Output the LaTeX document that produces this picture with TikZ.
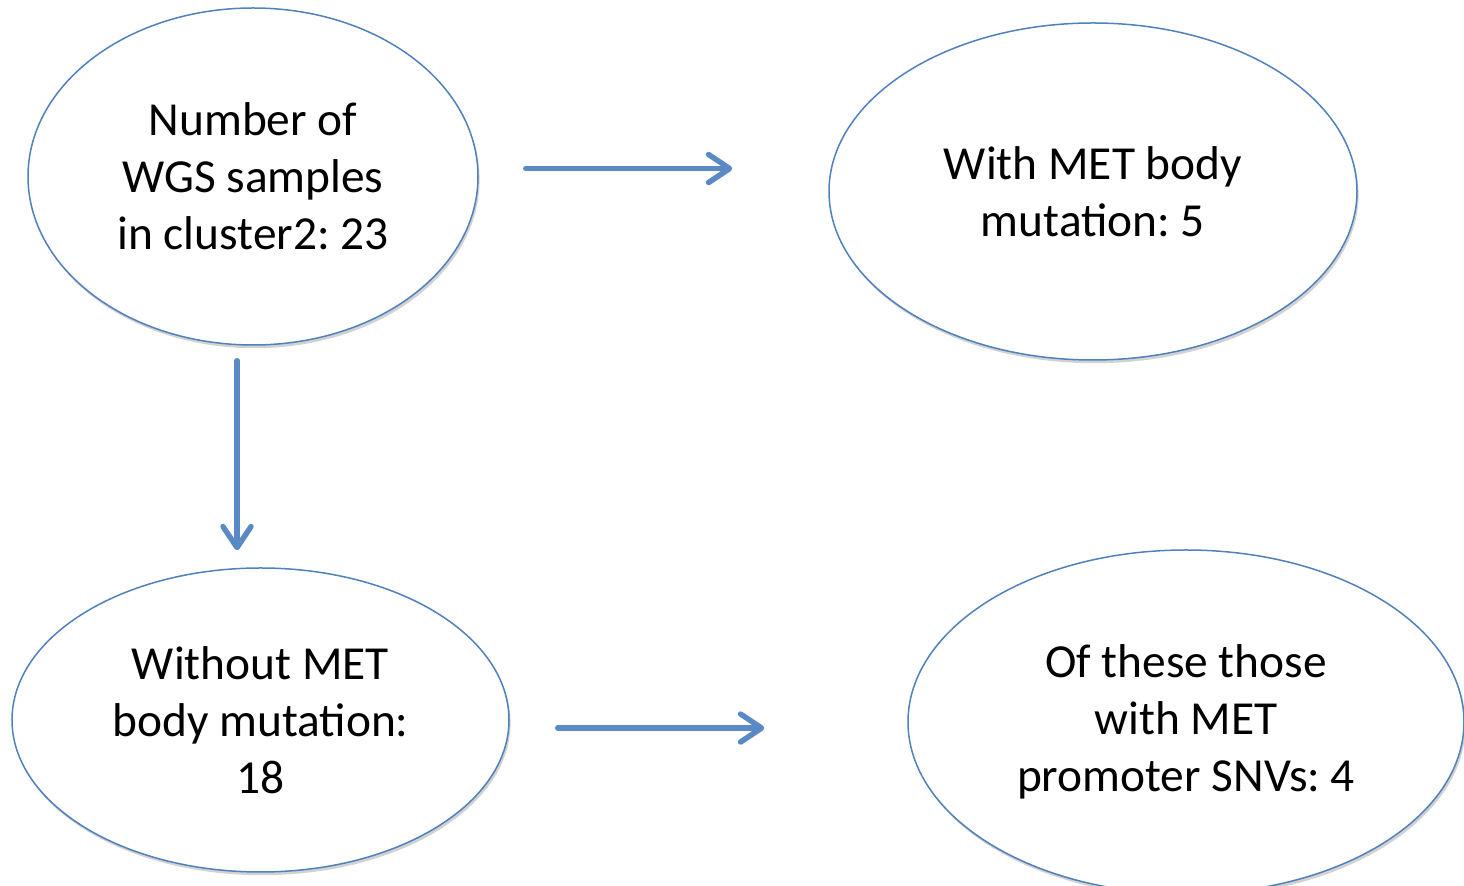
\documentclass[tikz,border=0pt]{standalone}
\usepackage{fontspec}
\setmainfont{Carlito}
\frenchspacing
\usetikzlibrary{shapes.geometric,arrows.meta,shadows}

\definecolor{officeblue}{HTML}{4F81BD}
\definecolor{arrowblue}{HTML}{5A8AC6}

\tikzset{
  bubble/.style={ellipse, draw=officeblue, line width=0.75pt, fill=white,
    inner sep=0pt, align=center,
    font=\fontsize{23.7}{28.5}\selectfont,
    drop shadow={shadow xshift=0.8pt, shadow yshift=-1.6pt, opacity=0.25, fill=black!70}},
  flow/.style={draw=arrowblue, line width=2.7pt, line cap=round, line join=round,
    -{Straight Barb[length=10.5pt,width=14pt,line cap=round,line join=round]},
    preaction={draw=black, opacity=0.15, transform canvas={xshift=0.6pt,yshift=-1.2pt}}}
}

\begin{document}
\begin{tikzpicture}[x=0.5pt,y=-0.5pt]
  \useasboundingbox (0,0) rectangle (1464,886);
  \node[bubble, minimum width=225pt, minimum height=168.5pt] (wgs) at (253,176.5)
    {Number of\\WGS samples\\in cluster2: 23};
  \node[bubble, minimum width=264pt, minimum height=168.5pt] (withmet) at (1093,191.5)
    {With MET body\\mutation: 5};
  \node[bubble, minimum width=248.5pt, minimum height=152pt] (without) at (260.5,720)
    {Without MET\\body mutation:\\18};
  \node[bubble, minimum width=278pt, minimum height=172pt] (promoter) at (1186,722)
    {Of these those\\with MET\\promoter SNVs: 4};
  % arrows
  \draw[flow] ([shift={(47,-8)}]wgs.east) -- ([shift={(-96,-8)}]wgs.east -| withmet.west);
  \draw[flow] ([shift={(-16,15)}]wgs.south) -- ([shift={(-16,-17)}]wgs.south |- without.north);
  \draw[flow] ([shift={(48,8)}]without.east) -- ([shift={(-143,8)}]without.east -| promoter.west);
\end{tikzpicture}
\end{document}
